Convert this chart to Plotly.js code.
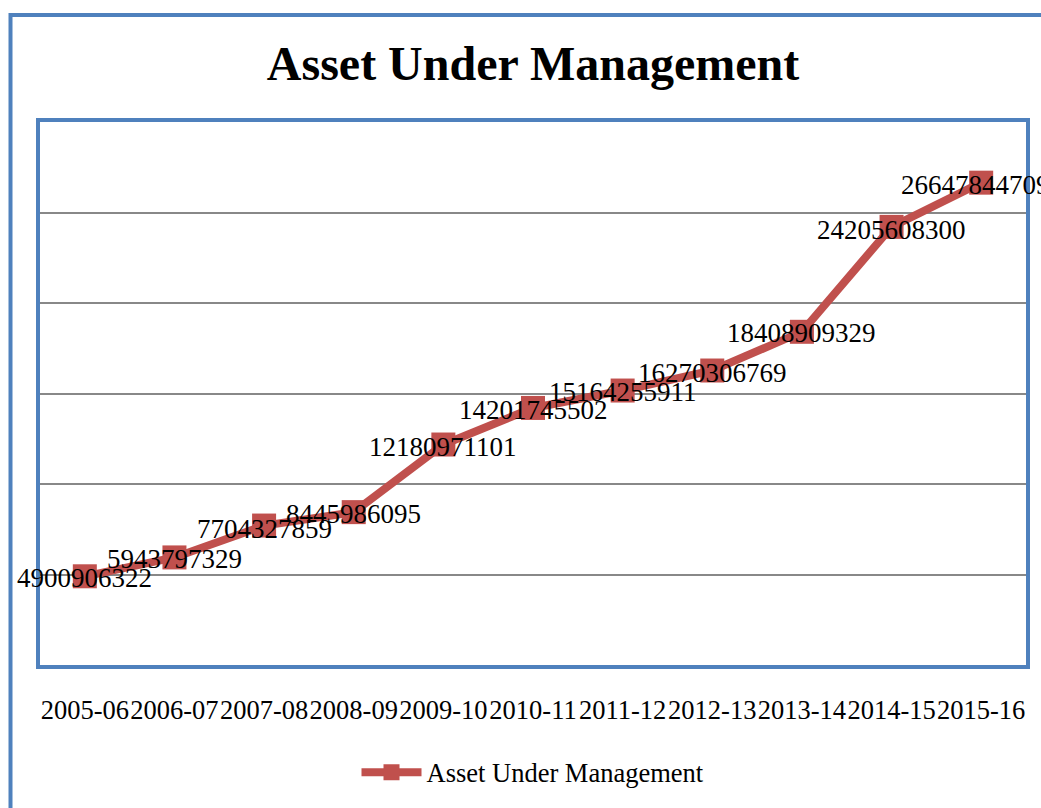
<!DOCTYPE html>
<html>
<head>
<meta charset="utf-8">
<script src="https://cdn.plot.ly/plotly-3.0.1.min.js"></script>
<style>
html,body{margin:0;padding:0;background:#fff;}
#chart{width:1041px;height:808px;}
</style>
</head>
<body>
<div id="chart"></div>
<script>
var categories = ["2005-06","2006-07","2007-08","2008-09","2009-10","2010-11","2011-12","2012-13","2013-14","2014-15","2015-16"];
var aumValues = [4900906322,5943797329,7704327859,8445986095,12180971101,14201745502,15164255911,16270306769,18408909329,24205608300,26647844709];
var seriesName = "Asset Under Management";
var titleText = "Asset Under Management";

// pixel nudges of the data labels
var labelShifts = [-2, -2, -3, -2, -2, -2, -1, -2, -1, -3, -2];
var labelXShifts = [0, 0, 0, 0, 0, 0, 0, 0, 0, 0, -6];

var W = 1041, H = 808;
var mL = 40, mR = 15, mT = 122, mB = 140;
var pw = W - mL - mR, ph = H - mT - mB;
function px2x(p){ return (p - mL) / pw; }
function py2y(p){ return (H - mB - p) / ph; }

var serif = "Liberation Serif, Times New Roman, serif";

var trace = {
  type: "scatter",
  mode: "lines+markers",
  x: categories,
  y: aumValues,
  name: seriesName,
  line: {color: "#C0504D", width: 8},
  marker: {symbol: "square", size: 24, color: "#C0504D"},
  cliponaxis: false,
  hoverinfo: "x+y"
};

var labelAnnotations = aumValues.map(function(v, i){
  return {
    x: categories[i], y: v, xref: "x", yref: "y",
    text: String(v), showarrow: false,
    xanchor: "center", yanchor: "middle",
    yshift: labelShifts[i], xshift: labelXShifts[i],
    font: {family: serif, size: 27, color: "#000"}
  };
});

var layout = {
  width: W, height: H,
  margin: {l: mL, r: mR, t: mT, b: mB},
  paper_bgcolor: "#fff",
  plot_bgcolor: "#fff",
  font: {family: serif, color: "#000"},
  title: {
    text: titleText,
    font: {family: serif, size: 48, color: "#000", weight: "bold"},
    x: 0.5, xanchor: "center", xref: "paper",
    y: 1 - 63/808, yanchor: "middle", yref: "container"
  },
  xaxis: {
    type: "category",
    range: [-0.5, 10.5],
    showgrid: false,
    zeroline: false,
    showline: true, mirror: true, linecolor: "#4F81BD", linewidth: 4,
    ticks: "outside", ticklen: 18, tickcolor: "rgba(0,0,0,0)",
    tickangle: 0,
    tickfont: {family: serif, size: 26.5, color: "#000"},
    fixedrange: true
  },
  yaxis: {
    range: [0, 30000000000],
    dtick: 5000000000,
    tick0: 0,
    showgrid: true, gridcolor: "#888888", gridwidth: 2,
    zeroline: false,
    showticklabels: false,
    showline: true, mirror: true, linecolor: "#4F81BD", linewidth: 4,
    fixedrange: true
  },
  showlegend: true,
  legend: {
    orientation: "h",
    x: 0.5, xanchor: "center",
    y: py2y(776), yanchor: "middle",
    font: {family: serif, size: 26.5, color: "#000"},
    itemwidth: 60,
    bgcolor: "rgba(0,0,0,0)"
  },
  annotations: labelAnnotations,
  shapes: [
    {type: "rect", xref: "paper", yref: "paper",
     x0: px2x(10.5), x1: px2x(1200), y0: py2y(1000), y1: py2y(14.5),
     line: {color: "#4F81BD", width: 4}, fillcolor: "rgba(0,0,0,0)", layer: "below"}
  ]
};

Plotly.newPlot("chart", [trace], layout, {displayModeBar: false, staticPlot: true});
</script>
</body>
</html>
